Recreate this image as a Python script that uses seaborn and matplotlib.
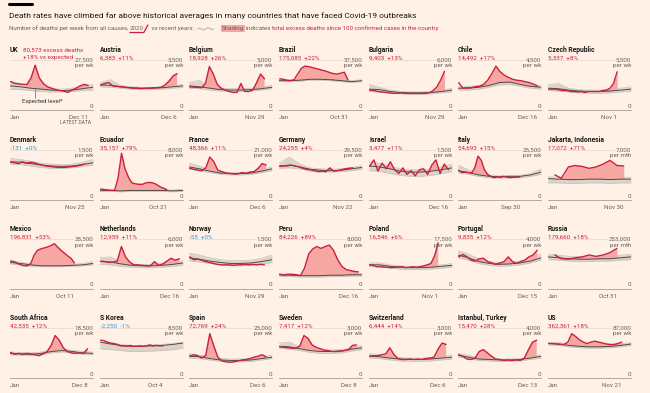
import numpy as np
import pandas as pd
import matplotlib
matplotlib.use("Agg")
import matplotlib.pyplot as plt
from matplotlib import font_manager
from matplotlib.lines import Line2D
import seaborn as sns

sns.set_theme(style="white")

installed = {f.name for f in font_manager.fontManager.ttflist}
narrow = "Liberation Sans Narrow" if "Liberation Sans Narrow" in installed else "Roboto"
plt.rcParams["font.family"] = [narrow, "DejaVu Sans"]
SMALL = 4.9 if narrow == "Liberation Sans Narrow" else 4.5

BG = "#fff1e5"
RED = "#cc1f3f"
PINK = "#f6a7a2"
BLUE = "#3a96d6"
GREY_TXT = "#66605c"

# ---- data (series values are % of each panel's scale top) ----
countries = ["UK", "Austria", "Belgium", "Brazil", "Bulgaria", "Chile", "Czech Republic",
             "Denmark", "Ecuador", "France", "Germany", "Israel", "Italy", "Jakarta, Indonesia",
             "Mexico", "Netherlands", "Norway", "Peru", "Poland", "Portugal", "Russia",
             "South Africa", "S Korea", "Spain", "Sweden", "Switzerland", "Istanbul, Turkey", "US"]
excess = [80573, 6383, 18928, 175085, 9403, 14492, 5337,
          -131, 35157, 48366, 24255, 3477, 54693, 17072,
          196831, 12959, -55, 84226, 16546, 9835, 179660,
          42535, -2250, 72769, 7417, 6444, 15470, 362361]
excess_pct = [18, 11, 26, 22, 13, 17, 8,
              0, 79, 11, 4, 11, 15, 71,
              53, 11, 0, 89, 6, 12, 18,
              12, -1, 24, 12, 14, 28, 18]
scale_top = [27500, 3500, 5000, 37500, 6000, 4500, 5500,
             1500, 8000, 21000, 29500, 1500, 25500, 7000,
             28500, 6000, 1500, 8000, 17500, 4000, 253000,
             18500, 8500, 23000, 3000, 3000, 4000, 87000]
unit = ["wk"] * 13 + ["mth"] + ["wk"] * 6 + ["mth"] + ["wk"] * 7
last_date = ["Dec 11", "Dec 6", "Nov 29", "Oct 31", "Nov 29", "Dec 16", "Nov 1",
             "Nov 25", "Oct 21", "Dec 6", "Nov 22", "Dec 16", "Sep 30", "Nov 30",
             "Oct 11", "Dec 16", "Nov 29", "Dec 16", "Nov 1", "Dec 15", "Oct 31",
             "Dec 8", "Oct 4", "Dec 6", "Dec 8", "Dec 6", "Dec 13", "Nov 21"]
# day of year from which excess is shaded (100 confirmed cases)
shade_start = [65, 68, 68, 75, 70, 75, 70,
               400, 75, 60, 65, 70, 55, 60,
               80, 68, 400, 80, 70, 70, 70,
               70, 400, 60, 65, 60, 75, 60]

deaths_2020 = [
    [54, 50, 49, 48, 48, 62, 89, 62, 50, 43, 40, 37, 35, 34, 31, 36, 40, 45, 48, 46],
    [47, 50, 52, 45, 44, 43, 42, 41, 40, 40, 39, 40, 40, 41, 41, 42, 47, 55, 66, 71],
    [43, 42, 42, 41, 50, 86, 70, 48, 40, 36, 33, 31, 31, 50, 33, 33, 36, 52, 70, 60],
    [60, 59, 57, 56, 58, 70, 82, 87, 86, 84, 82, 80, 78, 76, 73, 71, 70, 72, 74, 58],
    [36, 35, 33, 32, 31, 30, 29, 29, 30, 29, 29, 29, 29, 29, 29, 30, 34, 42, 57, 76],
    [52, 40, 41, 41, 43, 44, 48, 57, 71, 87, 75, 68, 63, 59, 57, 56, 54, 52, 49, 45],
    [38, 38, 38, 36, 35, 35, 33, 33, 32, 33, 31, 33, 33, 33, 33, 35, 36, 40, 50, 75],
    [74, 73, 71, 75, 72, 74, 73, 70, 68, 66, 65, 64, 63, 63, 63, 64, 65, 66, 68, 70],
    [17, 16, 15, 14, 14, 40, 93, 60, 42, 30, 28, 27, 27, 30, 31, 30, 27, 22, 19, 16],
    [61, 59, 57, 56, 62, 85, 75, 57, 54, 51, 50, 49, 49, 52, 50, 53, 54, 61, 71, 68],
    [65, 66, 66, 68, 66, 64, 61, 59, 58, 56, 54, 55, 54, 62, 55, 56, 58, 60, 61, 62],
    [65, 79, 55, 72, 60, 75, 58, 50, 62, 48, 56, 45, 58, 60, 48, 68, 79, 50, 70, 58],
    [57, 52, 53, 52, 51, 62, 87, 78, 58, 48, 44, 41, 43, 42, 44, 42, 41, 42, 42, 43],
    [47, 40, 64, 67, 65, 61, 64, 70, 78, 67, 66],
    [53, 52, 48, 45, 43, 43, 48, 66, 76, 79, 81, 83, 86, 90, 83, 76, 70, 64, 59, 49],
    [53, 52, 50, 51, 53, 84, 62, 51, 45, 45, 44, 43, 43, 52, 44, 47, 53, 59, 55, 58],
    [62, 56, 57, 55, 52, 50, 48, 46, 45, 45, 45, 44, 45, 45, 46, 45, 46, 45, 46, 45],
    [25, 23, 25, 25, 24, 22, 38, 68, 79, 84, 80, 84, 87, 76, 56, 42, 35, 33, 31, 30],
    [45, 44, 41, 41, 40, 40, 39, 40, 40, 41, 39, 40, 41, 40, 41, 43, 45, 48, 64, 92],
    [62, 67, 62, 55, 53, 58, 59, 52, 49, 46, 49, 52, 62, 52, 48, 52, 55, 62, 66, 76],
    [66, 58, 57, 60, 62, 66, 63, 66, 71, 80],
    [48, 44, 46, 44, 46, 45, 43, 41, 45, 50, 63, 84, 74, 58, 50, 47, 46, 47, 46, 56],
    [74, 73, 70, 68, 67, 65, 62, 62, 61, 63, 61, 61, 62, 61, 62, 64, 62, 63, 62, 62],
    [40, 43, 41, 36, 42, 88, 62, 38, 30, 28, 27, 28, 30, 32, 33, 35, 38, 40, 43, 39],
    [60, 59, 58, 57, 57, 62, 84, 78, 64, 59, 56, 53, 52, 50, 50, 51, 52, 54, 63, 64],
    [40, 41, 41, 43, 45, 58, 44, 35, 33, 33, 34, 33, 34, 33, 35, 36, 38, 55, 68, 65],
    [43, 40, 34, 33, 36, 50, 54, 47, 40, 34, 33, 31, 32, 31, 32, 31, 36, 54, 70, 74],
    [67, 67, 66, 65, 65, 70, 88, 82, 75, 70, 67, 70, 72, 70, 68, 66, 65, 65, 67, 70],
]
# expected level and range of recent years, read every ~6.5 weeks through the year
expected = [
    [45, 43, 40, 38, 36, 35, 36, 39, 42], [47, 46, 43, 41, 40, 40, 41, 43, 45],
    [45, 43, 40, 37, 36, 36, 37, 39, 42], [56, 56, 57, 59, 59, 58, 56, 54, 56],
    [38, 37, 33, 31, 30, 30, 31, 33, 36], [40, 40, 42, 46, 52, 53, 48, 44, 42],
    [40, 39, 36, 34, 33, 33, 34, 36, 38], [75, 74, 71, 68, 66, 65, 66, 69, 73],
    [14, 14, 13, 14, 14, 14, 14, 13, 14], [64, 60, 55, 51, 50, 50, 51, 55, 60],
    [66, 68, 64, 59, 57, 56, 57, 60, 63], [66, 64, 60, 55, 53, 53, 55, 58, 62],
    [56, 52, 47, 44, 43, 44, 44, 47, 53], [39, 38, 37, 37, 38, 38, 37, 38, 38],
    [50, 48, 45, 43, 43, 43, 44, 45, 48], [52, 51, 47, 44, 43, 43, 44, 46, 49],
    [60, 57, 53, 50, 48, 48, 49, 52, 56], [24, 23, 22, 22, 22, 23, 23, 24, 24],
    [45, 45, 42, 40, 39, 39, 40, 42, 44], [66, 60, 52, 48, 46, 47, 49, 53, 60],
    [62, 60, 58, 57, 57, 58, 58, 60, 62], [46, 45, 44, 46, 50, 52, 50, 47, 46],
    [70, 66, 63, 61, 61, 62, 63, 65, 68], [40, 39, 35, 32, 31, 31, 32, 35, 38],
    [61, 60, 56, 52, 50, 50, 51, 55, 58], [40, 39, 36, 34, 33, 33, 34, 36, 38],
    [42, 38, 34, 33, 32, 32, 33, 36, 40], [67, 66, 63, 61, 60, 60, 61, 63, 66],
]
hist_hi = [
    [55, 50, 44, 41, 39, 38, 40, 43, 48], [52, 58, 46, 43, 42, 42, 43, 45, 48],
    [52, 57, 44, 40, 39, 39, 40, 42, 46], [58, 58, 59, 61, 61, 60, 58, 56, 58],
    [48, 42, 36, 33, 32, 32, 33, 35, 40], [44, 44, 46, 51, 57, 57, 52, 47, 45],
    [47, 50, 40, 37, 36, 36, 37, 40, 43], [82, 80, 76, 72, 70, 69, 70, 74, 80],
    [16, 16, 15, 16, 16, 16, 16, 15, 16], [72, 66, 58, 54, 52, 52, 54, 58, 64],
    [72, 85, 70, 62, 60, 59, 60, 63, 67], [75, 72, 66, 60, 58, 58, 60, 64, 70],
    [68, 58, 50, 46, 45, 46, 46, 50, 60], [43, 42, 41, 41, 42, 42, 41, 42, 42],
    [53, 51, 47, 45, 45, 45, 46, 48, 52], [60, 62, 52, 47, 46, 46, 47, 50, 54],
    [70, 66, 60, 56, 54, 54, 55, 59, 66], [26, 25, 24, 24, 24, 25, 25, 26, 26],
    [49, 49, 45, 43, 42, 42, 43, 45, 48], [75, 68, 58, 52, 50, 51, 53, 58, 68],
    [68, 66, 63, 62, 62, 63, 63, 65, 68], [49, 48, 47, 49, 53, 55, 53, 50, 49],
    [70, 68, 65, 63, 63, 64, 65, 67, 70], [46, 42, 38, 35, 34, 34, 35, 38, 42],
    [68, 70, 60, 55, 53, 53, 54, 58, 63], [45, 44, 40, 37, 36, 36, 37, 40, 43],
    [46, 42, 37, 35, 34, 34, 35, 38, 43], [70, 69, 66, 64, 63, 63, 64, 66, 69],
]
hist_lo = [
    [38, 37, 35, 33, 32, 32, 33, 35, 36], [43, 42, 40, 38, 37, 37, 38, 40, 42],
    [40, 39, 36, 34, 33, 33, 34, 36, 39], [54, 54, 55, 57, 57, 56, 54, 52, 54],
    [33, 32, 30, 28, 27, 27, 28, 30, 32], [36, 36, 38, 42, 47, 48, 44, 40, 38],
    [35, 34, 32, 30, 29, 29, 30, 32, 34], [70, 69, 66, 63, 61, 61, 62, 65, 68],
    [12, 12, 11, 12, 12, 12, 12, 11, 12], [60, 56, 52, 48, 47, 47, 48, 52, 56],
    [61, 62, 60, 55, 53, 53, 54, 56, 59], [56, 55, 50, 46, 44, 44, 46, 50, 54],
    [52, 48, 44, 41, 40, 41, 41, 44, 48], [30, 30, 29, 29, 30, 30, 29, 30, 30],
    [47, 45, 42, 41, 41, 41, 42, 43, 45], [46, 45, 42, 40, 39, 39, 40, 42, 44],
    [54, 51, 48, 45, 43, 43, 44, 47, 50], [20, 20, 19, 19, 19, 20, 20, 21, 21],
    [41, 41, 38, 36, 35, 35, 36, 38, 40], [60, 55, 48, 44, 42, 43, 45, 49, 55],
    [56, 55, 53, 52, 52, 53, 53, 55, 56], [43, 42, 41, 43, 47, 49, 47, 44, 43],
    [56, 54, 52, 50, 50, 51, 52, 54, 57], [36, 35, 32, 29, 28, 28, 29, 32, 35],
    [57, 55, 52, 48, 46, 46, 47, 51, 54], [36, 35, 32, 30, 29, 29, 30, 32, 34],
    [38, 35, 31, 30, 29, 29, 30, 33, 36], [64, 63, 60, 58, 57, 57, 58, 60, 63],
]

# ---- layout (pixels) ----
W, H = 650, 393
fig = plt.figure(figsize=(6.5, 3.93), dpi=100, facecolor=BG)


def fx(x):
    return x / W


def fy(y):
    return 1 - y / H


col_left = [10, 100, 189, 279, 369, 458, 548]
row_top = [60, 150, 239, 328]
PW, PH = 83, 50

for i, name in enumerate(countries):
    r, c = divmod(i, 7)
    x0, t = col_left[c], row_top[r]
    top = scale_top[i]
    ax = fig.add_axes([fx(x0), fy(t + PH), PW / W, PH / H])
    ax.set_facecolor("none")

    end = pd.to_datetime(last_date[i] + " 2020", format="%b %d %Y")
    end_day = end.dayofyear - 1
    vals = np.array(deaths_2020[i]) / 100 * top
    if unit[i] == "mth":
        xs = np.array([d.dayofyear - 1 for d in pd.date_range("2020-01-31", periods=len(vals), freq="ME")])
    else:
        xs = np.linspace(3, end_day, len(vals))
    xe = np.linspace(0, 366, len(expected[i]))
    exp = np.array(expected[i]) / 100 * top
    hi = np.array(hist_hi[i]) / 100 * top
    lo = np.array(hist_lo[i]) / 100 * top

    ax.fill_between(xe, lo, hi, color="#dcd4cc", lw=0, zorder=1)
    ax.plot(xe, hi, color="#c9c1b9", lw=0.5, zorder=1)
    ax.plot(xe, lo, color="#c9c1b9", lw=0.5, zorder=1)
    exp_i = np.interp(xs, xe, exp)
    ax.fill_between(xs, exp_i, vals, where=(vals > exp_i) & (xs >= shade_start[i]),
                    interpolate=True, color=PINK, lw=0, zorder=2)
    sns.lineplot(x=xe, y=exp, ax=ax, color="#4f4a46", lw=0.7, zorder=3)
    sns.lineplot(x=xs, y=vals, ax=ax, color=RED, lw=1.0, zorder=4)

    ax.set_xlim(0, 366)
    ax.set_ylim(-top * 3 / 47, top)
    ax.axhline(top, color="#e4d6ca", lw=0.5, zorder=0)
    for s in ["left", "right", "top"]:
        ax.spines[s].set_visible(False)
    ax.spines["bottom"].set_color("#a59f9a")
    ax.spines["bottom"].set_linewidth(0.6)
    ax.set_yticks([])
    ax.set_xticks([0, end_day])
    ax.set_xticklabels(["Jan", last_date[i]], fontsize=SMALL, color=GREY_TXT)
    ax.tick_params(axis="x", length=2.5, width=0.5, color="#a59f9a", pad=2, direction="inout")
    labs = ax.get_xticklabels()
    labs[0].set_ha("left")
    labs[1].set_ha("right")
    ax.set_xlabel("")
    ax.set_ylabel("")

    # texts
    fig.text(fx(x0), fy(t - 10), name, fontsize=SMALL + 0.4, weight="bold", color="#1a1817", va="center")
    col = BLUE if excess[i] < 0 else RED
    if name == "UK":
        fig.text(fx(x0 + 13), fy(t - 10), f"{excess[i]:,} excess deaths", fontsize=SMALL, color=col, va="center")
        fig.text(fx(x0 + 13), fy(t - 2), f"{excess_pct[i]:+d}% vs expected", fontsize=SMALL, color=col, va="center")
    else:
        fig.text(fx(x0), fy(t - 2), f"{excess[i]:,}  {excess_pct[i]:+d}%", fontsize=SMALL, color=col, va="center")
    fig.text(fx(x0 + PW), fy(t), f"{top:,}", fontsize=SMALL, color=GREY_TXT, ha="right", va="center",
             bbox=dict(facecolor=BG, edgecolor="none", pad=0.3))
    fig.text(fx(x0 + PW), fy(t + 6), f"per {unit[i]}", fontsize=SMALL, color=GREY_TXT, ha="right", va="center")
    fig.text(fx(x0 + PW), fy(t + 46), "0", fontsize=SMALL, color=GREY_TXT, ha="right", va="center")

# UK annotations
fig.add_artist(Line2D([fx(35), fx(35)], [fy(89), fy(98)], color="#6d6762", lw=0.5))
fig.text(fx(22), fy(102), "Expected level*", fontsize=SMALL - 0.2, color="#33302e", va="center")
fig.text(fx(91), fy(123), "LATEST DATA", fontsize=3.5, color=GREY_TXT, ha="right", va="center")

# ---- header ----
fig.add_artist(Line2D([fx(9), fx(32)], [fy(3.5), fy(3.5)], color="#000000", lw=2.2))
title_size = 7.0 if narrow == "Liberation Sans Narrow" else 6.0
fig.text(fx(9), fy(15.5), "Death rates have climbed far above historical averages in many countries that have faced Covid-19 outbreaks",
         fontsize=title_size, color="#1a1817", va="center")

renderer = fig.canvas.get_renderer()
sub_size = 5.0 if narrow == "Liberation Sans Narrow" else 4.45


def put(x, text, color, **kw):
    tx = fig.text(fx(x), fy(28.5), text, fontsize=sub_size, color=color, va="center", **kw)
    bb = tx.get_window_extent(renderer=renderer)
    return bb.x1, bb.x0


x, _ = put(9, "Number of deaths per week from all causes, ", GREY_TXT)
x1, x0 = put(x, "2020", GREY_TXT)
fig.add_artist(Line2D([fx(x0), fx(x1), fx(x1 + 4)], [fy(32.5), fy(32.5), fy(25)], color=RED, lw=0.9))
x, _ = put(x1 + 6, " vs recent years:", GREY_TXT)
sx = x + 4
fig.add_artist(Line2D([fx(sx + k) for k in range(0, 18, 2)],
                      [fy(29 + d) for d in [0, -1, 0.5, 1, 0, -1.5, -0.5, 0.5, 0]],
                      color="#bdb6b0", lw=0.8))
x, _ = put(sx + 24, "Shading", GREY_TXT, bbox=dict(facecolor=PINK, edgecolor="none", pad=0.6))
x, _ = put(x, " indicates ", GREY_TXT)
put(x, "total excess deaths since 100 confirmed cases in the country", RED)

fig.savefig("out.png", dpi=100, facecolor=BG)
